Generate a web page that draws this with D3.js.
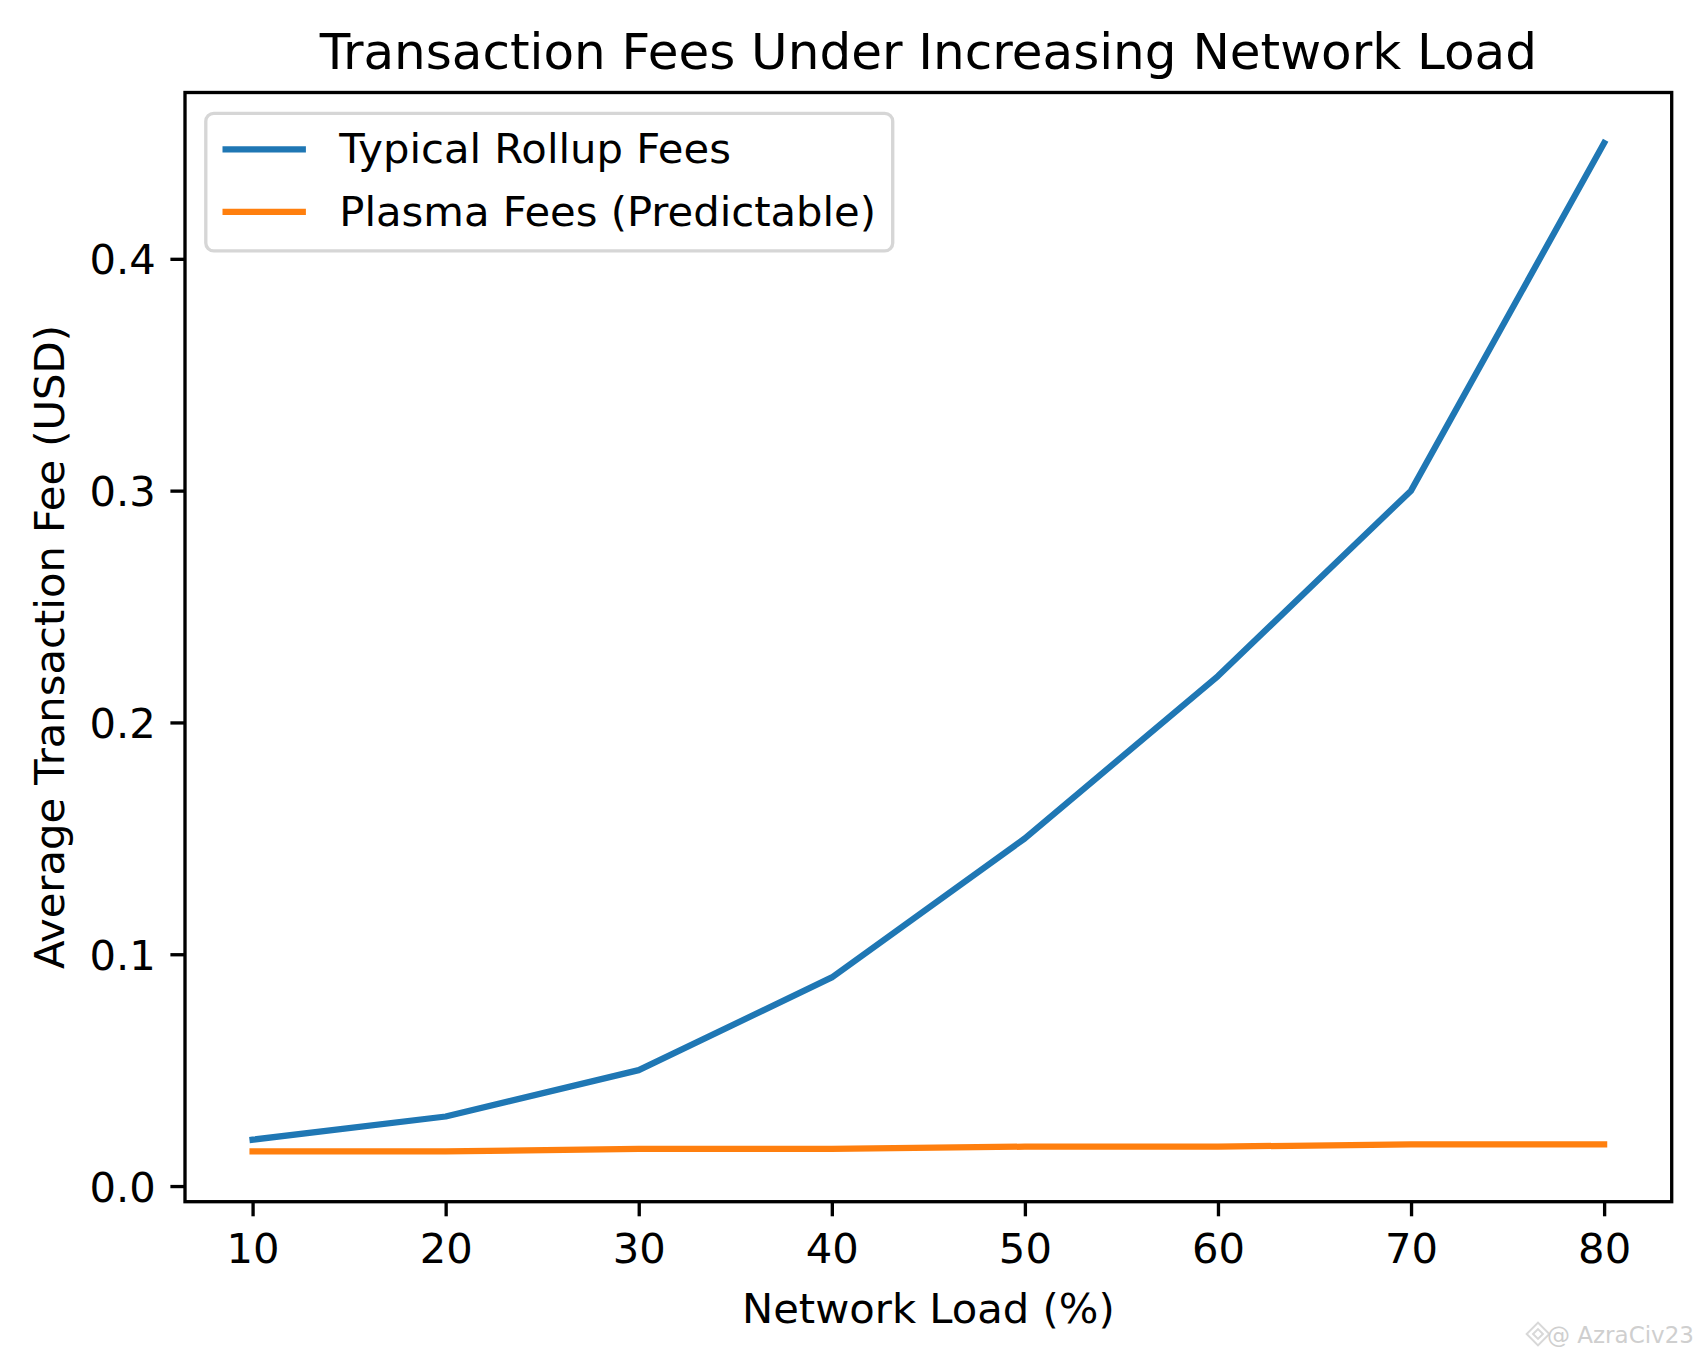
<!DOCTYPE html>
<html>
<head>
<meta charset="utf-8">
<script src="https://cdn.jsdelivr.net/npm/d3@7"></script>
<style>
  html, body { margin: 0; padding: 0; background: #fff; }
  svg { display: block; }
  text { font-family: "DejaVu Sans", sans-serif; fill: #000; }
</style>
</head>
<body>
<script>
// ---- data ----
const networkLoad = [10, 20, 30, 40, 50, 60, 70, 80];
const rollupFees = [0.02, 0.03, 0.05, 0.09, 0.15, 0.22, 0.30, 0.45];
const plasmaFees = [0.015, 0.015, 0.016, 0.016, 0.017, 0.017, 0.018, 0.018];
const xTicks = [10, 20, 30, 40, 50, 60, 70, 80];
const yTicks = [0.0, 0.1, 0.2, 0.3, 0.4];
const seriesNames = ["Typical Rollup Fees", "Plasma Fees (Predictable)"];
const seriesColors = ["#1f77b4", "#ff7f0e"];

// ---- layout ----
const W = 1702, H = 1361;
const plot = { left: 185, right: 1671.7, top: 92.5, bottom: 1201.7 };
const fs = 41.7;           // 10pt @300dpi
const lw = 6.25;           // 1.5pt
const axLw = 3.33;         // 0.8pt
const tickLen = 14.6;

const svg = d3.select("body").append("svg").attr("width", W).attr("height", H);
svg.append("rect").attr("width", W).attr("height", H).attr("fill", "#fff");

// scales with matplotlib-like 5% margins
const xMin = d3.min(networkLoad), xMax = d3.max(networkLoad);
const xPad = (xMax - xMin) * 0.05;
const allY = rollupFees.concat(plasmaFees);
const yMin = d3.min(allY), yMax = d3.max(allY);
const yPad = (yMax - yMin) * 0.05;

const x = d3.scaleLinear().domain([xMin - xPad, xMax + xPad]).range([plot.left, plot.right]);
const y = d3.scaleLinear().domain([yMin - yPad, yMax + yPad]).range([plot.bottom, plot.top]);

// lines
const series = [rollupFees, plasmaFees];
const line = d3.line().x((d, i) => x(networkLoad[i])).y(d => y(d));
svg.append("clipPath").attr("id", "clip").append("rect")
  .attr("x", plot.left).attr("y", plot.top)
  .attr("width", plot.right - plot.left).attr("height", plot.bottom - plot.top);
series.forEach((s, k) => {
  svg.append("path").datum(s)
    .attr("d", line)
    .attr("fill", "none")
    .attr("stroke", seriesColors[k])
    .attr("stroke-width", lw)
    .attr("stroke-linecap", "square")
    .attr("stroke-linejoin", "round")
    .attr("clip-path", "url(#clip)");
});

// axes
const xAxis = d3.axisBottom(x).tickValues(xTicks).tickFormat(d3.format("d"))
  .tickSizeInner(tickLen).tickSizeOuter(0).tickPadding(14.6);
const yAxis = d3.axisLeft(y).tickValues(yTicks).tickFormat(d3.format(".1f"))
  .tickSizeInner(tickLen).tickSizeOuter(0).tickPadding(14.6);

const gx = svg.append("g").attr("transform", `translate(0,${plot.bottom})`).call(xAxis);
const gy = svg.append("g").attr("transform", `translate(${plot.left},0)`).call(yAxis);
[gx, gy].forEach(g => {
  g.select(".domain").remove();
  g.selectAll(".tick line").attr("stroke", "#000").attr("stroke-width", axLw);
  g.selectAll(".tick text").attr("font-size", fs).attr("font-family", "DejaVu Sans").attr("fill", "#000");
});
gx.selectAll(".tick text").attr("dy", "0.76em");
gy.selectAll(".tick text").attr("dy", "0.36em");

// frame
svg.append("rect")
  .attr("x", plot.left).attr("y", plot.top)
  .attr("width", plot.right - plot.left).attr("height", plot.bottom - plot.top)
  .attr("fill", "none").attr("stroke", "#000").attr("stroke-width", axLw);

// title & labels
const cx = (plot.left + plot.right) / 2;
svg.append("text").attr("x", cx).attr("y", 69).attr("text-anchor", "middle")
  .attr("font-size", 50).text("Transaction Fees Under Increasing Network Load");
svg.append("text").attr("x", cx).attr("y", 1323).attr("text-anchor", "middle")
  .attr("font-size", fs).text("Network Load (%)");
svg.append("text")
  .attr("transform", `translate(64,${(plot.top + plot.bottom) / 2}) rotate(-90)`)
  .attr("text-anchor", "middle").attr("font-size", fs)
  .text("Average Transaction Fee (USD)");

// legend
const lg = svg.append("g");
const lx = plot.left + 20.8, ly = plot.top + 20.8;
const pad = 16.7, handleLen = 83.4, handleGap = 33.4, rowH = 41.7, rowGap = 20.8;
const frame = lg.append("rect");
let maxW = 0;
seriesNames.forEach((name, k) => {
  const cy = ly + pad + rowH / 2 + k * (rowH + rowGap) - 1.5;
  lg.append("line")
    .attr("x1", lx + pad).attr("x2", lx + pad + handleLen)
    .attr("y1", cy).attr("y2", cy)
    .attr("stroke", seriesColors[k]).attr("stroke-width", lw);
  const t = lg.append("text")
    .attr("x", lx + pad + handleLen + handleGap).attr("y", cy + 14)
    .attr("font-size", fs).text(name);
  maxW = Math.max(maxW, t.node().getComputedTextLength());
});
const lw2 = pad + handleLen + handleGap + maxW + pad;
const lh = pad * 2 + rowH * 2 + rowGap;
frame.attr("x", lx).attr("y", ly).attr("width", lw2).attr("height", lh)
  .attr("rx", 8).attr("ry", 8)
  .attr("fill", "#fff").attr("fill-opacity", 0.8)
  .attr("stroke", "#d6d6d6").attr("stroke-width", axLw);

// watermark
const wm = svg.append("g").attr("fill", "none").attr("stroke", "#d8d8d8").attr("stroke-width", 2);
wm.append("rect").attr("x", 1530).attr("y", 1326).attr("width", 16).attr("height", 16)
  .attr("transform", "rotate(45,1538,1334)");
wm.append("rect").attr("x", 1534.5).attr("y", 1330.5).attr("width", 7).attr("height", 7)
  .attr("transform", "rotate(45,1538,1334)");
svg.append("text").attr("x", 1694).attr("y", 1343).attr("text-anchor", "end")
  .attr("font-size", 23).attr("font-family", "Open Sans, DejaVu Sans").style("fill", "#cfcfcf")
  .text("@ AzraCiv23");
</script>
</body>
</html>
